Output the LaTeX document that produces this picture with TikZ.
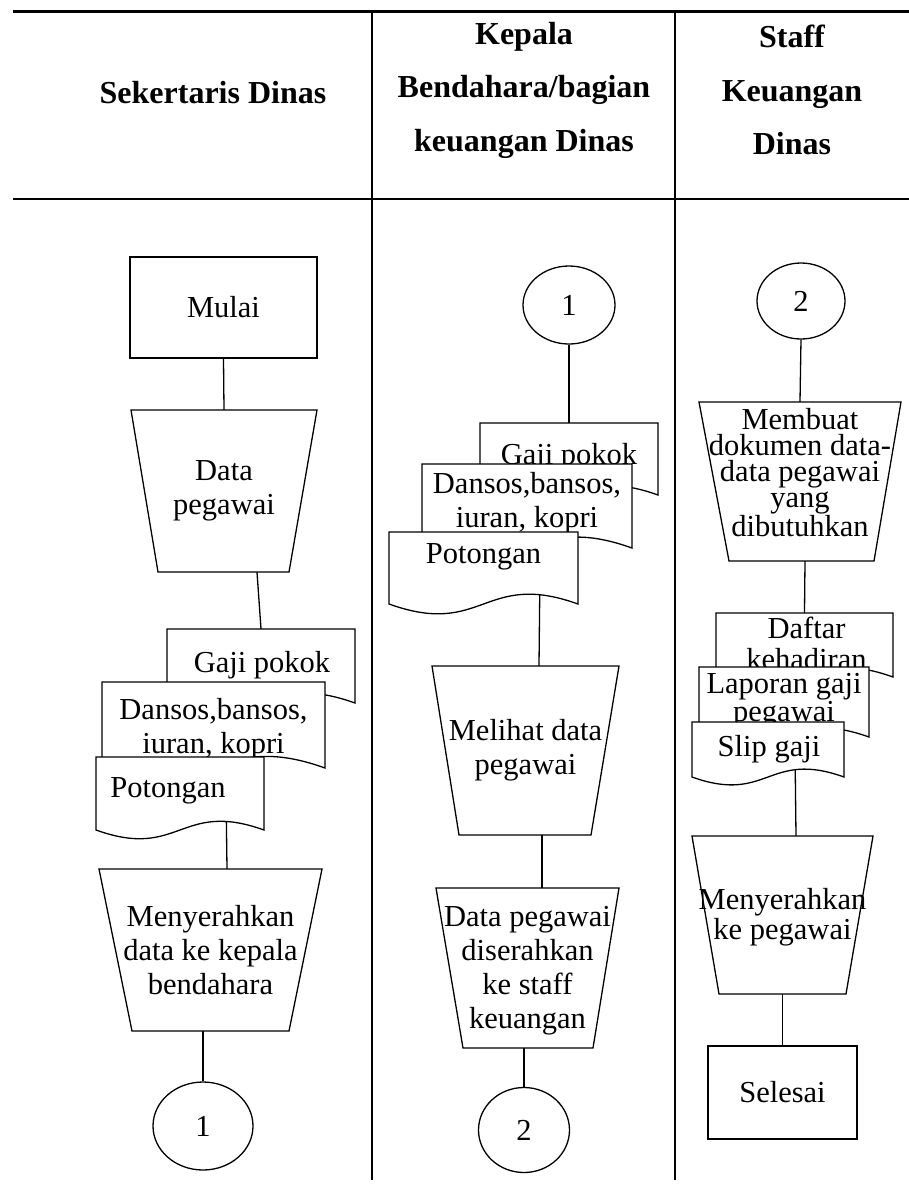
\documentclass[tikz,border=0pt]{standalone}
\usepackage{fontspec}
\setmainfont{Liberation Serif}
\usetikzlibrary{shapes.geometric}
\pgfdeclarelayer{background}
\pgfsetlayers{background,main}

\tikzset{
  shapeline/.style={draw=black, line width=1.3pt, fill=white, line join=miter},
  flowtext/.style={font=\fontsize{30.5}{34}\selectfont, align=center, inner sep=0pt},
  boundbox/.style={rectangle, draw=none, inner sep=0pt},
  termbox/.style={shapeline, rectangle, flowtext},
  connector/.style={shapeline, ellipse, flowtext},
  flowline/.style={draw=black, line width=1.3pt},
  headtext/.style={font=\fontsize{32}{53.5}\selectfont\bfseries, align=center, inner sep=0pt},
}

% manual trapezoid: name, top-left x, top-right x, top y, bottom-left x, bottom-right x, bottom y, text options, text
\newcommand\flowtrap[9]{%
  \path[shapeline] (#2,#4) -- (#3,#4) -- (#6,#7) -- (#5,#7) -- cycle;
  \node[boundbox, minimum width={#3-#2}, minimum height={#7-#4}] (#1) at ({(#2+#3)/2},{(#4+#7)/2}) {};
  \node[flowtext,#8] (#1-text) at (#1.center) {#9};
}

% document symbol with a wavy lower edge: name, left x, top y, right x, y of wave ends, text options, text
\newcommand\flowdoc[7]{%
  \path[shapeline] (#4,#3) -- (#2,#3) -- (#2,#5)
    .. controls ({(#2+#4)/2},{#5+0.18*(#4-#2)}) and ({(#2+#4)/2},{#5-0.18*(#4-#2)}) .. (#4,#5) -- cycle;
  \node[boundbox, minimum width={#4-#2}, minimum height={#5-#3}] (#1) at ({(#2+#4)/2},{(#3+#5)/2}) {};
  \node[flowtext,#6] (#1-text) at (#1.center) {#7};
}

\begin{document}
\begin{tikzpicture}[x=1pt, y=-1pt]
\useasboundingbox (0,0) rectangle (909,1187);

% header texts
\node[headtext] (h1) at (213,93) {Sekertaris Dinas};
\node[headtext] (h2) at (524,90) {Kepala\\Bendahara/bagian\\keuangan Dinas};
\node[headtext] (h3) at (792,90) {Staff\\Keuangan\\Dinas};

% Sekertaris Dinas lane
\node[termbox, minimum width=187, minimum height=101] (mulai) at (223.5,307.5) {Mulai};
\flowtrap{datapeg}{131}{317}{410}{158}{289}{572}{}{Data\\pegawai}
\flowdoc{gaji1}{167}{629}{355}{703}{xshift=1pt, yshift=1pt}{Gaji pokok}
\flowdoc{dansos1}{102}{682}{325}{768}{yshift=-4pt}{Dansos,bansos,\\iuran, kopri}
\flowdoc{pot1}{96}{757}{264}{830}{xshift=-12pt, yshift=3pt}{Potongan}
\flowtrap{serah1}{99}{322}{869}{132}{289}{1031}{}{Menyerahkan\\data ke kepala\\bendahara}
\node[connector, minimum width=100, minimum height=88] (c1a) at (203,1126) {1};

% Kepala Bendahara lane
\node[connector, minimum width=92, minimum height=78] (c1b) at (569,305) {1};
\flowdoc{gaji2}{480}{423}{658}{495}{yshift=2pt}{Gaji pokok}
\flowdoc{dansos2}{422}{464}{632}{548}{yshift=2.5pt}{Dansos,bansos,\\iuran, kopri}
\flowdoc{pot2}{389}{532}{578}{604}{yshift=11pt}{Potongan}
\flowtrap{melihat}{432}{619}{666}{459}{591}{835}{}{Melihat data\\pegawai}
\flowtrap{kirim}{436}{619}{888}{463}{593}{1048}{yshift=-3pt}{Data pegawai\\diserahkan\\ke staff\\keuangan}
\node[connector, minimum width=91, minimum height=85] (c2a) at (524,1130) {2};

% Staff Keuangan lane
\node[connector, minimum width=88, minimum height=76] (c2b) at (801,301) {2};
\flowtrap{buat}{699}{901}{402}{729}{874}{561}{font=\fontsize{30.5}{26}\selectfont, yshift=9pt}{Membuat\\dokumen data-\\data pegawai\\yang\\dibutuhkan}
\flowdoc{daftar}{716}{613}{893}{677}{font=\fontsize{30.5}{31}\selectfont, xshift=2pt, yshift=2pt}{Daftar\\kehadiran}
\flowdoc{laporan}{699}{667}{869}{737}{font=\fontsize{30.5}{28}\selectfont, yshift=1pt}{Laporan gaji\\pegawai}
\flowdoc{slip}{692}{722}{844}{777}{xshift=1pt}{Slip gaji}
\flowtrap{serah3}{692}{873}{836}{719}{846}{994}{font=\fontsize{30.5}{30}\selectfont, yshift=-2pt}{Menyerahkan\\ke pegawai}
\node[termbox, minimum width=149, minimum height=93] (selesai) at (782.5,1092.5) {Selesai};

\begin{pgfonlayer}{background}
  % table rules
  \draw[line width=2.5pt] (13,11.5) -- (909,11.5);
  \draw[line width=2pt] (13,199) -- (909,199);
  \draw[line width=1.8pt] (372,11.5) -- (372,1180);
  \draw[line width=1.8pt] (675,11.5) -- (675,1180);

  % flow lines
  \draw[flowline] (mulai.south) -- (datapeg.north);
  \draw[flowline] ([xshift=33pt]datapeg.south) -- (gaji1.north);
  \draw[flowline] ([xshift=46pt]pot1.center) -- ([xshift=16.5pt]serah1.north);
  \draw[flowline] ([xshift=-7.5pt]serah1.south) -- (c1a.north);

  \draw[flowline] (c1b.south) -- (gaji2.north);
  \draw[flowline] ([xshift=56.5pt]pot2.center) -- ([xshift=13.5pt]melihat.north);
  \draw[flowline] ([xshift=16.5pt]melihat.south) -- ([xshift=14.5pt]kirim.north);
  \draw[flowline] ([xshift=-3.5pt]kirim.south) -- (c2a.north);

  \draw[flowline] (c2b.south) -- (buat.north);
  \draw[flowline] ([xshift=5pt]buat.south) -- (daftar.north);
  \draw[flowline] ([xshift=27pt]slip.center) -- ([xshift=13.5pt]serah3.north);
  \draw[flowline] (serah3.south) -- (selesai.north);
\end{pgfonlayer}
\end{tikzpicture}
\end{document}
